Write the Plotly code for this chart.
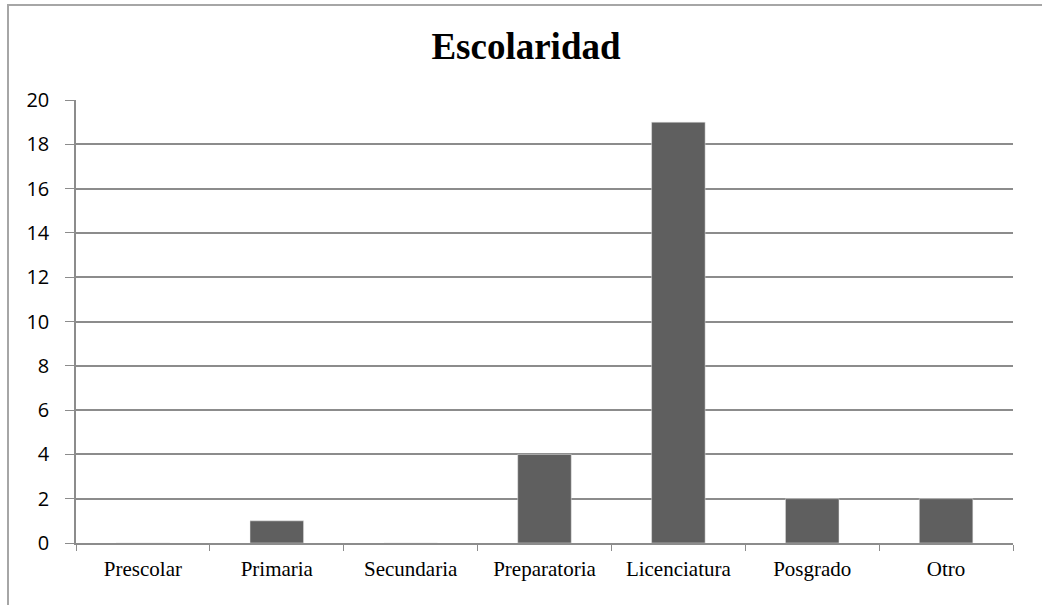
import plotly.graph_objects as go

categories = ["Prescolar", "Primaria", "Secundaria", "Preparatoria", "Licenciatura", "Posgrado", "Otro"]
values = [0, 1, 0, 4, 19, 2, 2]
y_ticks = list(range(0, 21, 2))

W, H = 1042, 605
L, R, T, B = 76, 29, 100, 62
pw, ph = W - L - R, H - T - B

fig = go.Figure(go.Bar(
    x=categories, y=values,
    marker=dict(color="#5f5f5f", line=dict(color="#e8e8e8", width=0.5)),
    width=0.4,
    hoverinfo="skip",
))

grid = "#8c8c8c"
fig.update_layout(
    width=W, height=H,
    margin=dict(l=L, r=R, t=T, b=B),
    paper_bgcolor="white", plot_bgcolor="white",
    showlegend=False,
    title=dict(text="<b>Escolaridad</b>", x=(526 - L) / pw, xref="paper", xanchor="center",
               y=1 - 46 / H, yref="container", yanchor="middle",
               font=dict(family="Liberation Serif", size=37, color="black")),
    xaxis=dict(type="category", tickson="boundaries", ticks="outside", ticklen=6, tickcolor=grid,
               showline=True, linecolor=grid, linewidth=1.5, showgrid=False,
               ticklabelstandoff=6,
               tickfont=dict(family="Liberation Serif", size=21, color="black")),
    yaxis=dict(range=[0, 20], tickvals=y_ticks, ticks="outside", ticklen=9, tickcolor=grid,
               showline=True, linecolor=grid, linewidth=1.5,
               showgrid=True, gridcolor=grid, gridwidth=1.5, zeroline=False,
               ticklabelstandoff=12,
               tickfont=dict(family="Open Sans", size=20, color="black")),
    shapes=[dict(type="rect", xref="paper", yref="paper",
                 x0=(8 - L) / pw, x1=(1100 - L) / pw,
                 y0=(H - B - 700) / ph, y1=(H - B - 5) / ph,
                 line=dict(color="#a6a6a6", width=2), fillcolor="rgba(0,0,0,0)", layer="below")],
)
fig.write_html("out.html", config={"displayModeBar": False},
               post_script="document.body.style.margin='0';")
